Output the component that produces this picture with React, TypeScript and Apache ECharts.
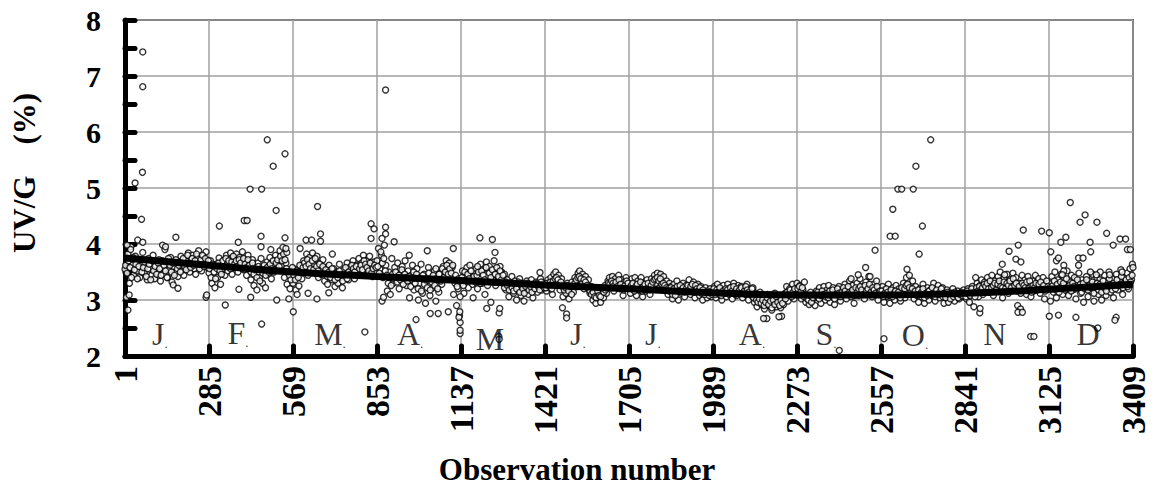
import React, { useEffect, useRef } from "react";
import * as echarts from "echarts";

const MONTH_LEN = 284;
const xTickMin = 1;
const xTickMax = 3409;
const yMin = 2;
const yMax = 8;

const monthLabels = ["J.", "F.", "M.", "A.", "M", "J.", "J.", "A.", "S.", "O.", "N", "D"];
const monthLabelObs = [119, 383, 694, 965, 1235, 1532, 1786, 2121, 2371, 2672, 2942, 3257];
const monthLabelY = [2.39, 2.41, 2.39, 2.39, 2.3, 2.39, 2.39, 2.39, 2.39, 2.37, 2.39, 2.39];

const janVals = [3.55, 3.05, 3.82, 3.30, 3.95, 3.62, 3.45, 3.78, 3.52, 3.70, 3.40, 3.66, 3.85, 3.48, 3.60, 3.36, 3.74, 3.55, 3.44, 3.80, 3.38, 3.62, 3.50, 3.72, 3.34, 3.58, 3.46, 3.90, 3.66, 3.40, 3.54, 3.76, 3.32, 3.60, 3.48, 3.70, 3.42, 3.64, 3.78, 3.52, 3.44, 3.72, 3.58, 3.84, 3.50, 3.66, 3.80, 3.56, 3.46, 3.74, 3.88, 3.62, 3.52, 3.78, 3.68, 3.86, 3.58];
const febVals = [3.48, 3.70, 3.30, 3.58, 3.22, 3.64, 3.40, 3.75, 3.28, 3.55, 3.68, 3.44, 3.80, 3.52, 3.62, 3.84, 3.46, 3.72, 3.58, 3.82, 3.50, 3.76, 3.62, 3.86, 3.54, 3.70, 3.44, 3.80, 3.60, 3.36, 3.72, 3.26, 3.58, 3.18, 3.66, 3.40, 3.74, 3.30, 3.52, 3.22, 3.68, 3.46, 3.76, 3.38, 3.62, 3.50, 3.80, 3.56, 3.70, 3.88, 3.62, 3.94, 3.40, 3.66, 3.28, 3.52, 3.20, 3.45];
const marVals = [3.30, 3.55, 3.18, 3.48, 3.25, 3.60, 3.38, 3.70, 3.50, 3.82, 3.44, 3.76, 3.58, 3.84, 3.62, 3.48, 3.78, 3.40, 3.66, 3.52, 3.72, 3.34, 3.58, 3.28, 3.62, 3.46, 3.36, 3.56, 3.24, 3.50, 3.30, 3.64, 3.40, 3.22, 3.54, 3.44, 3.66, 3.36, 3.58, 3.48, 3.70, 3.38, 3.62, 3.52, 3.74, 3.44, 3.66, 3.80, 3.56, 3.70, 3.46, 3.78, 3.60, 3.42, 3.68, 3.52];
const aprVals = [3.70, 3.92, 3.55, 3.80, 3.40, 3.98, 3.62, 3.16, 3.50, 3.10, 3.74, 3.30, 3.58, 3.42, 3.66, 3.20, 3.48, 3.60, 3.36, 3.70, 3.26, 3.52, 3.04, 3.44, 3.62, 3.18, 3.38, 3.56, 3.00, 3.30, 3.64, 3.12, 3.46, 2.94, 3.34, 3.58, 3.08, 3.40, 3.22, 3.52, 2.98, 3.36, 3.14, 3.48, 3.28, 3.60, 3.44, 3.70, 3.54, 3.66, 3.40, 3.58, 3.10, 3.30, 2.90, 3.20, 2.72];
const mayVals = [3.30, 3.52, 3.12, 3.44, 3.58, 3.22, 3.62, 3.36, 3.04, 3.48, 3.56, 3.20, 3.40, 3.64, 3.30, 3.54, 3.10, 3.68, 3.34, 3.60, 2.96, 3.46, 3.70, 3.26, 3.56, 3.38, 3.60, 3.50, 3.30, 3.46, 3.18, 3.36, 3.06, 3.28, 3.42, 3.12, 3.34, 3.00, 3.24, 3.38, 3.08, 3.30, 2.98, 3.20, 3.34, 3.10, 3.26, 3.36, 3.04, 3.22, 3.32, 3.14, 3.28, 3.38, 3.18, 3.30];
const junVals = [3.28, 3.16, 3.36, 3.22, 3.40, 3.10, 3.46, 3.50, 3.30, 3.44, 3.18, 3.38, 3.06, 3.26, 3.12, 3.30, 3.02, 3.20, 3.32, 3.14, 3.40, 3.24, 3.48, 3.52, 3.34, 3.46, 3.20, 3.42, 3.28, 3.36, 3.12, 3.24, 3.00, 3.18, 2.94, 3.10, 3.22, 2.96, 3.14, 3.04, 3.26, 3.12, 3.34, 3.40, 3.22, 3.42, 3.16, 3.38, 3.30, 3.44, 3.20, 3.36, 3.08, 3.32, 3.40, 3.26];
const julVals = [3.30, 3.12, 3.38, 3.20, 3.40, 3.08, 3.34, 3.24, 3.40, 3.06, 3.30, 3.16, 3.36, 3.22, 3.10, 3.38, 3.26, 3.44, 3.30, 3.48, 3.20, 3.46, 3.36, 3.42, 3.18, 3.34, 3.10, 3.30, 3.24, 3.02, 3.28, 3.14, 3.34, 3.00, 3.20, 3.12, 3.30, 3.06, 3.26, 3.16, 3.36, 3.10, 3.22, 3.32, 3.04, 3.18, 3.28, 3.08, 3.24, 3.00, 3.16, 3.22, 3.04, 3.12, 3.20, 3.06];
const augVals = [3.14, 3.24, 3.04, 3.28, 3.10, 3.20, 3.00, 3.26, 3.16, 3.06, 3.28, 3.12, 3.22, 3.02, 3.30, 3.18, 3.08, 3.26, 3.14, 3.24, 3.04, 3.20, 3.10, 3.28, 3.00, 3.16, 3.08, 3.22, 2.96, 3.12, 2.88, 3.04, 3.14, 2.92, 3.08, 2.84, 3.00, 3.10, 2.90, 3.04, 2.82, 2.98, 3.12, 2.88, 3.06, 2.94, 2.86, 3.02, 2.92, 3.12, 3.24, 2.98, 3.20, 3.08, 3.28, 3.02, 3.16];
const sepVals = [3.30, 3.10, 3.26, 3.02, 3.18, 3.32, 2.96, 3.08, 2.92, 3.14, 2.98, 3.06, 2.90, 3.16, 3.04, 3.22, 2.94, 3.12, 3.24, 3.00, 3.18, 3.26, 2.96, 3.10, 3.22, 2.92, 3.14, 3.06, 3.24, 2.98, 3.18, 3.10, 3.28, 3.02, 3.20, 3.34, 3.06, 3.26, 2.94, 3.16, 3.30, 3.08, 3.38, 3.14, 3.24, 3.02, 3.32, 3.12, 3.42, 3.20, 3.06, 3.28, 3.16, 3.34, 3.00, 3.22];
const octVals = [3.10, 3.24, 2.96, 3.18, 3.06, 3.28, 2.94, 3.14, 3.22, 3.00, 3.26, 3.08, 3.20, 2.98, 3.16, 3.30, 3.04, 3.40, 3.18, 3.44, 3.10, 3.34, 3.02, 3.24, 3.12, 2.96, 3.20, 3.06, 3.28, 2.94, 3.14, 3.22, 3.00, 3.18, 3.08, 3.30, 2.98, 3.16, 3.26, 3.04, 3.12, 3.22, 2.94, 3.08, 3.18, 2.96, 3.14, 3.04, 3.20, 2.98, 3.10, 3.16, 3.02, 3.12, 3.06, 3.18];
const novVals = [3.12, 3.02, 3.20, 2.96, 3.14, 3.24, 2.88, 3.18, 3.30, 3.06, 3.26, 3.36, 3.10, 3.32, 3.20, 3.40, 3.14, 3.28, 3.44, 3.08, 3.34, 3.22, 3.42, 3.16, 3.30, 3.04, 3.38, 3.24, 3.46, 3.12, 3.36, 3.28, 3.48, 3.18, 3.40, 2.90, 3.30, 2.84, 3.44, 3.20, 3.36, 3.10, 3.42, 3.26, 3.06, 3.34, 3.16, 3.44, 3.24, 3.38, 3.12, 3.30, 3.40, 3.02, 3.28, 3.20];
const decVals = [3.30, 2.98, 3.42, 3.14, 3.50, 3.04, 3.36, 3.22, 3.46, 3.10, 3.38, 3.26, 3.52, 3.08, 3.32, 3.44, 3.18, 3.40, 3.02, 3.30, 3.48, 3.12, 3.36, 2.96, 3.24, 3.42, 3.06, 3.34, 3.16, 3.46, 2.98, 3.28, 3.40, 3.10, 3.36, 3.00, 3.22, 3.44, 3.08, 3.30, 3.50, 3.14, 3.38, 3.04, 3.26, 3.46, 3.18, 3.34, 3.54, 3.10, 3.40, 3.28, 3.48, 3.20, 3.56, 3.36];

const janVals2 = [3.62, 3.48, 3.70, 3.58, 3.40, 3.76, 3.54, 3.64, 3.38, 3.60, 3.72, 3.50, 3.58, 3.68, 3.42, 3.56, 3.64, 3.36, 3.70, 3.52, 3.60, 3.46, 3.66, 3.56, 3.44, 3.70, 3.62, 3.52, 3.40, 3.74, 3.62, 3.50, 3.66, 3.44, 3.72, 3.56, 3.62, 3.50, 3.66, 3.74, 3.60, 3.54, 3.80, 3.66, 3.58, 3.74, 3.62, 3.70, 3.82, 3.64, 3.56, 3.72, 3.80, 3.60, 3.74, 3.64, 3.70];
const febVals2 = [3.56, 3.40, 3.64, 3.50, 3.38, 3.56, 3.66, 3.52, 3.46, 3.70, 3.60, 3.74, 3.64, 3.70, 3.56, 3.68, 3.78, 3.64, 3.70, 3.60, 3.72, 3.66, 3.56, 3.74, 3.64, 3.58, 3.72, 3.62, 3.50, 3.66, 3.46, 3.54, 3.40, 3.60, 3.34, 3.56, 3.48, 3.62, 3.44, 3.58, 3.50, 3.64, 3.56, 3.70, 3.54, 3.66, 3.72, 3.60, 3.78, 3.70, 3.82, 3.72, 3.56, 3.50, 3.44, 3.36, 3.58];
const marVals2 = [3.44, 3.36, 3.52, 3.40, 3.62, 3.50, 3.58, 3.66, 3.60, 3.72, 3.64, 3.56, 3.70, 3.54, 3.74, 3.60, 3.52, 3.64, 3.46, 3.60, 3.48, 3.54, 3.42, 3.50, 3.40, 3.56, 3.46, 3.36, 3.48, 3.40, 3.52, 3.44, 3.34, 3.46, 3.58, 3.38, 3.50, 3.46, 3.62, 3.56, 3.50, 3.60, 3.44, 3.56, 3.62, 3.54, 3.70, 3.64, 3.58, 3.52, 3.66, 3.48, 3.56, 3.62, 3.58];
const aprVals2 = [3.60, 3.48, 3.86, 3.66, 3.74, 3.52, 3.44, 3.30, 3.40, 3.26, 3.46, 3.38, 3.50, 3.32, 3.44, 3.36, 3.54, 3.28, 3.46, 3.40, 3.34, 3.42, 3.24, 3.36, 3.50, 3.30, 3.46, 3.20, 3.40, 3.16, 3.44, 3.28, 3.36, 3.22, 3.48, 3.18, 3.32, 3.44, 3.26, 3.38, 3.20, 3.46, 3.34, 3.56, 3.40, 3.50, 3.62, 3.46, 3.56, 3.48, 3.62, 3.36, 3.44, 3.24, 3.38, 3.06];
const mayVals2 = [3.40, 3.26, 3.50, 3.34, 3.46, 3.38, 3.52, 3.28, 3.42, 3.32, 3.44, 3.50, 3.30, 3.52, 3.44, 3.36, 3.58, 3.26, 3.48, 3.40, 3.54, 3.32, 3.46, 3.58, 3.42, 3.52, 3.36, 3.44, 3.22, 3.32, 3.26, 3.18, 3.30, 3.22, 3.16, 3.28, 3.20, 3.32, 3.14, 3.26, 3.20, 3.12, 3.24, 3.30, 3.18, 3.24, 3.14, 3.28, 3.20, 3.30, 3.24, 3.18, 3.32, 3.26, 3.22];
const junVals2 = [3.22, 3.30, 3.26, 3.32, 3.20, 3.34, 3.38, 3.40, 3.36, 3.28, 3.32, 3.24, 3.18, 3.22, 3.26, 3.16, 3.24, 3.10, 3.26, 3.30, 3.36, 3.40, 3.42, 3.38, 3.30, 3.36, 3.32, 3.26, 3.20, 3.16, 3.10, 3.14, 3.06, 3.04, 3.16, 3.08, 3.06, 3.20, 3.14, 3.18, 3.22, 3.30, 3.28, 3.34, 3.30, 3.26, 3.32, 3.24, 3.36, 3.28, 3.22, 3.18, 3.26, 3.34, 3.30];
const julVals2 = [3.22, 3.26, 3.30, 3.16, 3.24, 3.28, 3.18, 3.32, 3.16, 3.24, 3.28, 3.20, 3.30, 3.18, 3.26, 3.32, 3.36, 3.38, 3.40, 3.34, 3.38, 3.28, 3.30, 3.26, 3.22, 3.20, 3.16, 3.22, 3.10, 3.20, 3.08, 3.24, 3.16, 3.26, 3.18, 3.22, 3.14, 3.20, 3.26, 3.18, 3.24, 3.28, 3.14, 3.26, 3.20, 3.16, 3.22, 3.12, 3.18, 3.10, 3.14, 3.16, 3.08, 3.14, 3.10];
const augVals2 = [3.20, 3.10, 3.18, 3.14, 3.22, 3.08, 3.16, 3.12, 3.20, 3.18, 3.10, 3.22, 3.16, 3.24, 3.10, 3.20, 3.14, 3.18, 3.22, 3.12, 3.16, 3.24, 3.18, 3.14, 3.10, 3.20, 3.04, 3.10, 3.00, 2.96, 3.02, 2.94, 3.00, 2.90, 2.96, 3.04, 2.92, 2.98, 2.86, 3.00, 2.92, 3.06, 2.96, 2.90, 3.00, 2.94, 3.08, 3.02, 3.14, 3.10, 3.18, 3.06, 3.14, 3.20, 3.10];
const sepVals2 = [3.20, 3.24, 3.14, 3.22, 3.06, 3.10, 3.02, 3.00, 3.08, 2.96, 3.04, 3.10, 3.08, 3.14, 3.02, 3.08, 3.16, 3.10, 3.06, 3.12, 3.04, 3.16, 3.08, 3.18, 3.02, 3.10, 3.20, 3.12, 3.06, 3.14, 3.22, 3.16, 3.10, 3.24, 3.14, 3.12, 3.18, 3.08, 3.22, 3.14, 3.20, 3.24, 3.18, 3.10, 3.26, 3.16, 3.20, 3.28, 3.14, 3.22, 3.18, 3.12, 3.24, 3.10, 3.16];
const octVals2 = [3.16, 3.06, 3.12, 3.20, 3.14, 3.08, 3.18, 3.06, 3.12, 3.16, 3.10, 3.14, 3.04, 3.22, 3.10, 3.20, 3.26, 3.28, 3.22, 3.14, 3.20, 3.12, 3.16, 3.08, 3.18, 3.10, 3.14, 3.20, 3.04, 3.12, 3.08, 3.16, 3.10, 3.22, 3.12, 3.06, 3.18, 3.10, 3.14, 3.20, 3.06, 3.12, 3.04, 3.14, 3.10, 3.02, 3.12, 3.06, 3.14, 3.08, 3.04, 3.10, 3.14, 3.08, 3.12];
const novVals2 = [3.06, 3.16, 3.10, 3.08, 3.20, 3.12, 3.06, 3.22, 3.16, 3.24, 3.18, 3.22, 3.28, 3.24, 3.30, 3.20, 3.34, 3.22, 3.26, 3.30, 3.18, 3.28, 3.34, 3.24, 3.22, 3.32, 3.20, 3.30, 3.26, 3.34, 3.22, 3.38, 3.26, 3.30, 3.16, 3.24, 3.12, 3.30, 3.26, 3.22, 3.32, 3.20, 3.34, 3.14, 3.26, 3.22, 3.30, 3.18, 3.28, 3.32, 3.20, 3.26, 3.16, 3.34, 3.24];
const decVals2 = [3.22, 3.20, 3.26, 3.34, 3.18, 3.28, 3.14, 3.32, 3.24, 3.30, 3.18, 3.38, 3.22, 3.26, 3.16, 3.30, 3.24, 3.20, 3.36, 3.22, 3.28, 3.14, 3.30, 3.20, 3.36, 3.18, 3.26, 3.22, 3.32, 3.12, 3.24, 3.30, 3.18, 3.28, 3.14, 3.34, 3.22, 3.16, 3.26, 3.38, 3.24, 3.18, 3.30, 3.20, 3.36, 3.26, 3.28, 3.42, 3.22, 3.30, 3.36, 3.24, 3.40, 3.32, 3.44];

const outliers: [number, number][] = [
  [61, 7.43], [61, 6.81], [60, 5.28], [35, 5.09], [57, 4.44], [44, 4.07], [61, 4.03], [128, 3.98], [173, 4.12], [164, 3.27], [180, 3.21], [11, 2.82], [15, 3.09], [8, 3.98], [20, 3.9], [138, 3.95],
  [320, 4.32], [340, 2.91], [384, 4.03], [404, 4.42], [414, 4.42], [424, 4.98], [463, 4.98], [482, 5.86], [502, 5.39], [542, 5.61], [512, 4.6], [461, 4.14], [461, 3.95], [494, 3.9], [542, 4.11], [386, 3.19], [426, 3.05], [463, 2.57], [514, 3.0], [275, 3.05], [277, 3.09], [548, 3.85], [545, 3.92],
  [652, 4.67], [613, 4.07], [632, 4.07], [662, 4.18], [662, 4.05], [593, 3.92], [702, 3.82], [570, 2.79], [555, 3.02], [583, 3.1], [620, 3.12], [650, 3.02], [812, 2.43], [690, 3.13],
  [833, 4.36], [843, 4.27], [882, 4.3], [882, 4.18], [882, 6.75], [833, 4.1], [870, 4.1], [911, 4.04], [962, 3.8], [1023, 3.88], [1052, 3.56], [1094, 2.79], [985, 2.65], [1033, 2.76], [1060, 2.76], [1111, 3.92], [1134, 2.4], [1134, 2.46], [1134, 2.6], [1130, 2.69], [1133, 2.79], [870, 2.98], [875, 3.05],
  [1201, 4.11], [1243, 4.08], [1252, 3.85], [1193, 3.6], [1224, 2.85], [1266, 2.77], [1265, 2.35], [1266, 2.3], [1404, 3.49], [1268, 2.85],
  [1494, 2.75], [1494, 2.68], [1480, 2.86],
  [2171, 2.67], [2160, 2.67], [2221, 2.71], [2212, 2.7],
  [2416, 2.1], [2456, 3.38], [2505, 3.58], [2537, 3.89], [2567, 2.31], [2480, 3.45], [2520, 3.42],
  [2588, 4.14], [2605, 4.14], [2597, 4.62], [2614, 4.98], [2627, 4.98], [2666, 4.98], [2675, 5.39], [2697, 4.32], [2725, 5.86], [2686, 3.82], [2645, 3.55],
  [2877, 3.4], [2967, 3.64], [2990, 3.87], [3021, 3.98], [3038, 4.25], [3013, 3.73], [3030, 3.68], [2960, 3.5], [2975, 3.45], [2891, 2.77], [2892, 2.85], [3063, 2.35], [3074, 2.35], [3020, 2.78], [3035, 2.78], [3100, 4.23],
  [3126, 4.2], [3131, 3.86], [3150, 3.7], [3157, 3.75], [3165, 4.03], [3182, 4.12], [3197, 4.74], [3230, 4.39], [3247, 4.52], [3287, 4.39], [3264, 4.03], [3266, 3.86], [3320, 4.19], [3365, 4.09], [3384, 4.09], [3342, 3.98], [3390, 3.9], [3400, 3.9], [3407, 3.64], [3409, 3.58], [3225, 3.75], [3240, 3.75], [3225, 3.62], [3175, 3.62], [3175, 3.52], [3170, 3.45], [3126, 2.71], [3157, 2.73], [3216, 2.69], [3352, 2.69], [3348, 2.64], [3290, 2.5], [3298, 3.5], [3285, 3.45], [3265, 3.5], [3330, 3.45], [3372, 3.5],
];

const trendObs = [1, 285, 569, 853, 1137, 1421, 1705, 1989, 2273, 2557, 2841, 3125, 3409];
const trendVals = [3.75, 3.62, 3.5, 3.42, 3.35, 3.27, 3.2, 3.13, 3.09, 3.09, 3.12, 3.19, 3.28];

const monthSeries = [janVals, febVals, marVals, aprVals, mayVals, junVals, julVals, augVals, sepVals, octVals, novVals, decVals];
const monthSeries2 = [janVals2, febVals2, marVals2, aprVals2, mayVals2, junVals2, julVals2, augVals2, sepVals2, octVals2, novVals2, decVals2];

const SERIF = "'Liberation Serif', 'Times New Roman', serif";

export default function App() {
  const ref = useRef<HTMLDivElement>(null);
  useEffect(() => {
    if (!ref.current) return;
    const chart = echarts.init(ref.current, null, { renderer: "svg" });
    const band: [number, number][] = [];
    const addSet = (sets: number[][], offset: number) => {
      sets.forEach((vals, m) => {
        const start = 1 + m * MONTH_LEN;
        vals.forEach((v, j) => {
          band.push([Math.round(start + ((j + offset) * MONTH_LEN) / vals.length), v]);
        });
      });
    };
    addSet(monthSeries, 0);
    addSet(monthSeries2, 0.5);
    const trend = trendObs.map((o, i) => [o, trendVals[i]]);
    const labels = monthLabels.map((t, i) => ({ value: [monthLabelObs[i], monthLabelY[i]], name: t }));

    const pointStyle = { color: "#fff", borderColor: "#000", borderWidth: 1.4 };

    chart.setOption({
      animation: false,
      grid: { left: 125, right: 25, top: 20, bottom: 130, show: true, borderColor: "#000", borderWidth: 1.5, backgroundColor: "transparent" },
      xAxis: {
        type: "value",
        min: xTickMin,
        max: xTickMax,
        interval: MONTH_LEN,
        axisLine: { show: true, onZero: false, lineStyle: { color: "#000", width: 5 } },
        axisTick: { show: true, inside: true, length: 10, lineStyle: { color: "#000", width: 5, cap: "round" } },
        splitLine: { show: true, lineStyle: { color: "#a0a0a0", width: 1.5 } },
        axisLabel: { rotate: 90, margin: 10, color: "#000", fontSize: 34, fontWeight: "bold", fontFamily: SERIF, formatter: (v: number) => String(v) },
      },
      yAxis: {
        type: "value",
        min: yMin,
        max: yMax,
        interval: 1,
        axisLine: { show: true, onZero: false, lineStyle: { color: "#000", width: 5 } },
        axisTick: { show: true, inside: true, length: 10, lineStyle: { color: "#000", width: 5, cap: "round" } },
        minorTick: { show: true, splitNumber: 2, length: 10, lineStyle: { color: "#000", width: 5, cap: "round" } },
        splitLine: { show: true, lineStyle: { color: "#a0a0a0", width: 1.5 } },
        axisLabel: { margin: 24, color: "#000", fontSize: 30, fontWeight: "bold", fontFamily: SERIF },
      },
      graphic: [
        {
          type: "text",
          x: 24,
          y: 173,
          rotation: Math.PI / 2,
          style: { text: "UV/G    (%)", fill: "#000", font: `bold 31px ${SERIF}`, textAlign: "center", textVerticalAlign: "middle" },
        },
        {
          type: "text",
          x: 577,
          y: 469,
          style: { text: "Observation number", fill: "#000", font: `bold 31px ${SERIF}`, textAlign: "center", textVerticalAlign: "middle" },
        },
      ],
      series: [
        { type: "scatter", data: band, symbol: "circle", symbolSize: 6, itemStyle: pointStyle, z: 2 },
        { type: "scatter", data: outliers, symbol: "circle", symbolSize: 6, itemStyle: pointStyle, z: 2 },
        {
          type: "line",
          data: trend,
          smooth: true,
          showSymbol: false,
          symbol: "none",
          lineStyle: { color: "#000", width: 7 },
          z: 3,
        },
        {
          type: "scatter",
          data: labels,
          symbolSize: 0,
          z: 4,
          label: {
            show: true,
            position: "inside",
            formatter: (p: any) => {
              const t = p.name as string;
              return t.endsWith(".") ? `{a|${t.slice(0, -1)}}{b|.}` : `{a|${t}}`;
            },
            rich: {
              a: { fontSize: 32, fontFamily: SERIF, color: "#000", fontWeight: "normal" },
              b: { fontSize: 13, fontFamily: SERIF, color: "#000", verticalAlign: "bottom", padding: [14, 0, 0, 0] },
            },
          },
        },
      ],
    });
    return () => chart.dispose();
  }, []);
  return <div ref={ref} style={{ position: "absolute", left: 0, top: 0, width: 1158, height: 486 }} />;
}
